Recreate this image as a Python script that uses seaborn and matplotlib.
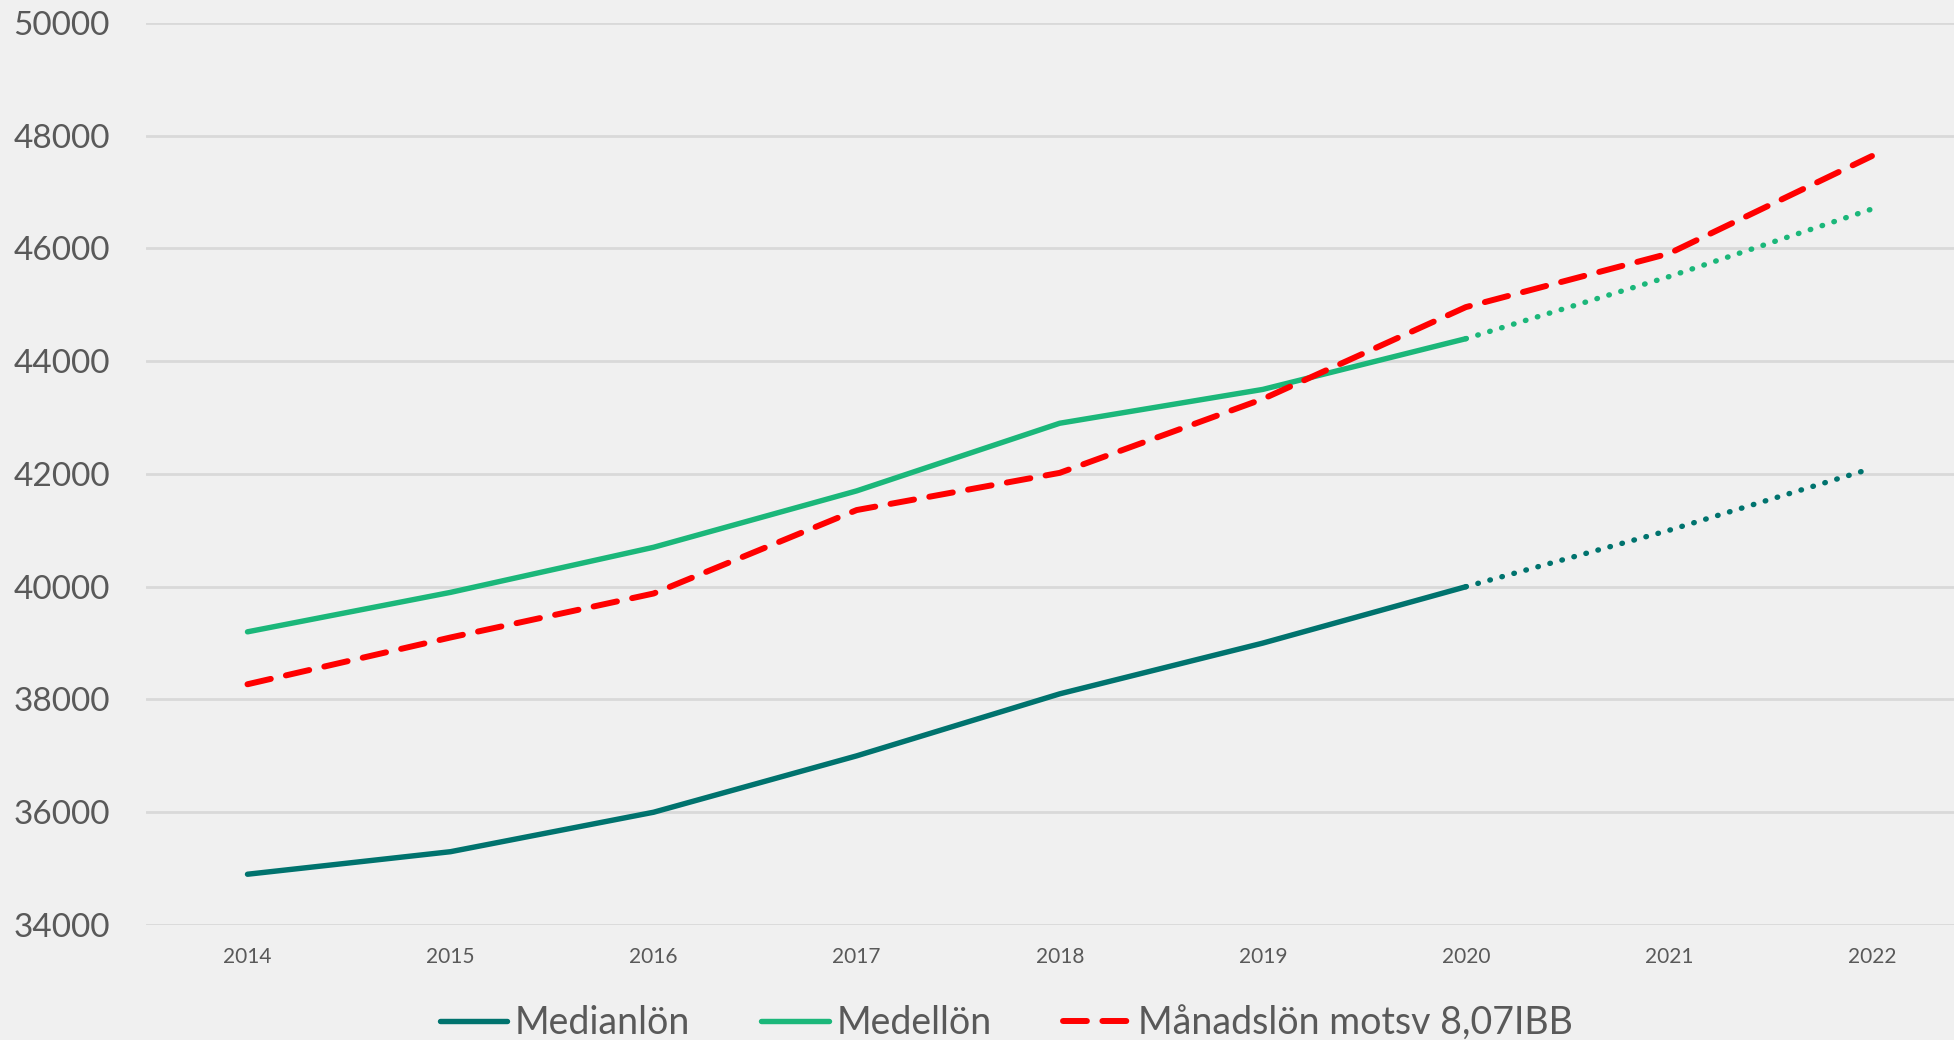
import matplotlib
matplotlib.use("Agg")
import matplotlib.pyplot as plt
import seaborn as sns
import pandas as pd

years = [2014, 2015, 2016, 2017, 2018, 2019, 2020, 2021, 2022]
medianlon = [34900, 35300, 36000, 37000, 38100, 39000, 40000, 41000, 42100]
medellon = [39200, 39900, 40700, 41700, 42900, 43500, 44400, 45500, 46700]
manadslon = [38270, 39100, 39880, 41360, 42020, 43330, 44960, 45910, 47640]
last_actual = 2020  # later years are forecasts, drawn dotted

sns.set_theme(style="white")
plt.rcParams["font.family"] = ["Lato", "DejaVu Sans"]

BG = "#f0f0f0"
TEXT = "#595959"
C_MEDIAN = "#00736e"
C_MEDEL = "#1bb77a"
C_IBB = "#ff0000"

df = pd.DataFrame({"year": years, "median": medianlon, "medel": medellon, "ibb": manadslon})
actual = df[df["year"] <= last_actual]
forecast = df[df["year"] >= last_actual]

fig = plt.figure(figsize=(19.54, 10.4), dpi=100, facecolor=BG)
ax = fig.add_axes([0.0747, 0.1106, 1 - 0.0747, 0.9779 - 0.1106])
ax.set_facecolor(BG)

lw = 3.9
sns.lineplot(data=actual, x="year", y="median", ax=ax, color=C_MEDIAN, lw=lw,
             label="Medianlön", solid_capstyle="round")
sns.lineplot(data=forecast, x="year", y="median", ax=ax, color=C_MEDIAN, lw=lw,
             linestyle=(0, (0.1, 2.2)), dash_capstyle="round")
sns.lineplot(data=actual, x="year", y="medel", ax=ax, color=C_MEDEL, lw=lw,
             label="Medellön", solid_capstyle="round")
sns.lineplot(data=forecast, x="year", y="medel", ax=ax, color=C_MEDEL, lw=lw,
             linestyle=(0, (0.1, 2.2)), dash_capstyle="round")
sns.lineplot(data=df, x="year", y="ibb", ax=ax, color=C_IBB, lw=4.3,
             linestyle=(0, (4.0, 2.6)), dash_capstyle="round",
             label="Månadslön motsv 8,07IBB")

ax.set_xlim(2013.5, 2022.404)
ax.set_ylim(34000, 50000)
ax.set_xticks(years)
ax.set_xticklabels([str(y) for y in years])
ax.set_yticks(range(34000, 50001, 2000))
ax.yaxis.grid(True, color="#d9d9d9", lw=2)
ax.xaxis.grid(False)
for s in ax.spines.values():
    s.set_visible(False)
ax.tick_params(axis="y", length=0, pad=26, labelsize=24, labelcolor=TEXT)
ax.tick_params(axis="x", length=0, pad=16, labelsize=15, labelcolor=TEXT)
ax.set_xlabel("")
ax.set_ylabel("")

handles, labels = ax.get_legend_handles_labels()
leg = fig.legend(handles, labels, loc="center", bbox_to_anchor=(0.515, 0.016),
                 ncol=3, frameon=False, fontsize=27, handlelength=1.8,
                 handletextpad=0.2, columnspacing=1.9)
for t in leg.get_texts():
    t.set_color(TEXT)
if ax.get_legend() is not None:
    ax.get_legend().remove()

fig.savefig("out.png", dpi=100, facecolor=BG)
